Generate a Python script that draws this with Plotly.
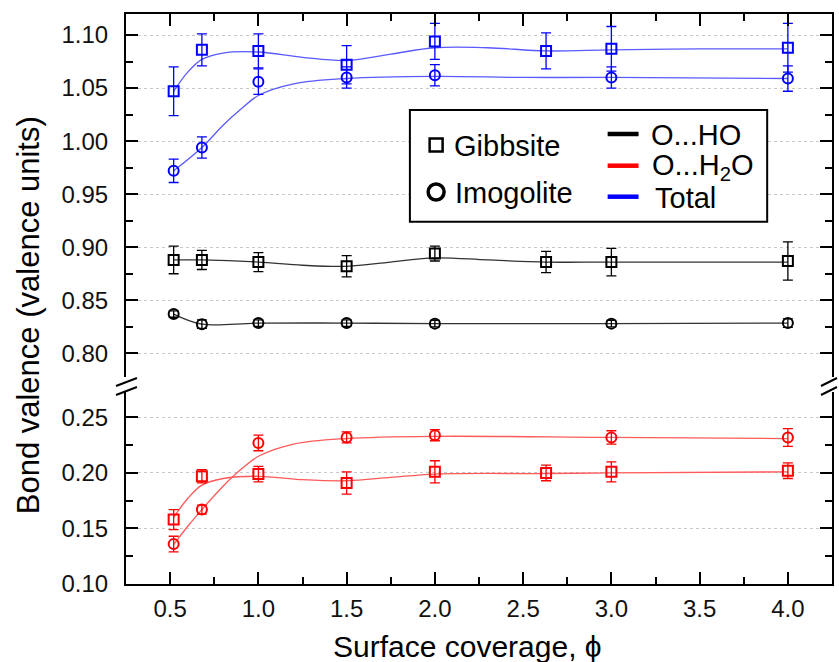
import plotly.graph_objects as go

# ---------------- data ----------------
x_gib = [0.52, 0.68, 1.0, 1.5, 2.0, 2.63, 3.0, 4.0]
x_imo = [0.52, 0.68, 1.0, 1.5, 2.0, 3.0, 4.0]

gib_total = [1.047, 1.086, 1.085, 1.072, 1.094, 1.085, 1.087, 1.088]
gib_total_err = [0.023, 0.015, 0.016, 0.018, 0.017, 0.017, 0.021, 0.023]
imo_total = [0.972, 0.994, 1.056, 1.060, 1.062, 1.060, 1.059]
imo_total_err = [0.011, 0.010, 0.012, 0.010, 0.010, 0.010, 0.012]

gib_oho = [0.888, 0.888, 0.886, 0.882, 0.894, 0.886, 0.886, 0.887]
gib_oho_err = [0.013, 0.009, 0.009, 0.010, 0.007, 0.010, 0.013, 0.018]
imo_oho = [0.837, 0.8275, 0.8285, 0.8285, 0.828, 0.828, 0.8285]
imo_oho_err = [0.003, 0.004, 0.003, 0.003, 0.003, 0.003, 0.004]

gib_h2o = [0.158, 0.197, 0.199, 0.191, 0.201, 0.200, 0.201, 0.202]
gib_h2o_err = [0.009, 0.006, 0.007, 0.010, 0.010, 0.007, 0.009, 0.007]
imo_h2o = [0.136, 0.167, 0.227, 0.232, 0.234, 0.232, 0.232]
imo_h2o_err = [0.007, 0.004, 0.007, 0.005, 0.005, 0.006, 0.008]

# smooth fitted curves
gib_total_fit_x = [0.52, 0.6, 0.68, 0.8, 1.0, 1.25, 1.5, 1.75, 2.0, 2.3, 2.63, 3.0, 3.5, 4.0]
gib_total_fit_y = [1.047, 1.065, 1.077, 1.083, 1.084, 1.079, 1.076, 1.082, 1.088, 1.088, 1.085, 1.086, 1.087, 1.087]
imo_total_fit_x = [0.52, 0.68, 0.8, 0.9, 1.0, 1.2, 1.5, 2.0, 2.5, 3.0, 4.0]
imo_total_fit_y = [0.972, 0.994, 1.015, 1.030, 1.043, 1.054, 1.059, 1.061, 1.060, 1.060, 1.059]
gib_oho_fit_x = [0.52, 0.68, 1.0, 1.25, 1.5, 1.75, 2.0, 2.3, 2.63, 3.0, 4.0]
gib_oho_fit_y = [0.888, 0.888, 0.886, 0.883, 0.882, 0.886, 0.890, 0.888, 0.886, 0.886, 0.886]
imo_oho_fit_x = [0.52, 0.68, 1.0, 1.5, 2.0, 3.0, 4.0]
imo_oho_fit_y = [0.837, 0.8275, 0.8285, 0.8285, 0.828, 0.828, 0.8285]
gib_h2o_fit_x = [0.52, 0.6, 0.68, 0.8, 1.0, 1.25, 1.5, 1.75, 2.0, 2.63, 3.0, 4.0]
gib_h2o_fit_y = [0.160, 0.177, 0.189, 0.195, 0.197, 0.194, 0.193, 0.196, 0.199, 0.1995, 0.200, 0.201]
imo_h2o_fit_x = [0.52, 0.6, 0.68, 0.8, 0.9, 1.0, 1.2, 1.5, 2.0, 3.0, 4.0]
imo_h2o_fit_y = [0.1355, 0.152, 0.167, 0.188, 0.203, 0.215, 0.226, 0.231, 0.233, 0.232, 0.231]

x_ticks = [0.5, 1.0, 1.5, 2.0, 2.5, 3.0, 3.5, 4.0]

# ---------------- styling ----------------
FONT = "Arial, Liberation Sans, sans-serif"
W, H = 839, 662
L, R, T, B = 126, 5, 14, 78
PW, PH = W - L - R, H - T - B

BLUE, BLUE_L = "#0000ff", "#5a5aff"
RED, RED_L = "#ff0000", "#ff5a5a"
BLK, BLK_L = "#000000", "#333333"


def px(xp):
    return (xp - L) / PW


def py(yp):
    return (H - B - yp) / PH


fig = go.Figure()


def add_series(xs, ys, errs, fx, fy, col, lcol, sym, upper):
    xa, ya = ("x2", "y2") if upper else ("x", "y")
    fig.add_trace(go.Scatter(x=fx, y=fy, mode="lines", line=dict(color=lcol, width=1.3, shape="spline", smoothing=1.0),
                             xaxis=xa, yaxis=ya, showlegend=False, hoverinfo="skip"))
    fig.add_trace(go.Scatter(x=xs, y=ys, mode="markers",
                             marker=dict(symbol=sym, size=10, color=col, line=dict(width=2, color=col)),
                             error_y=dict(type="data", array=errs, visible=True, color=col, thickness=1.3, width=5),
                             xaxis=xa, yaxis=ya, showlegend=False))


add_series(x_gib, gib_total, gib_total_err, gib_total_fit_x, gib_total_fit_y, BLUE, BLUE_L, "square-open", True)
add_series(x_imo, imo_total, imo_total_err, imo_total_fit_x, imo_total_fit_y, BLUE, BLUE_L, "circle-open", True)
add_series(x_gib, gib_oho, gib_oho_err, gib_oho_fit_x, gib_oho_fit_y, BLK, BLK_L, "square-open", True)
add_series(x_imo, imo_oho, imo_oho_err, imo_oho_fit_x, imo_oho_fit_y, BLK, BLK_L, "circle-open", True)
add_series(x_gib, gib_h2o, gib_h2o_err, gib_h2o_fit_x, gib_h2o_fit_y, RED, RED_L, "square-open", False)
add_series(x_imo, imo_h2o, imo_h2o_err, imo_h2o_fit_x, imo_h2o_fit_y, RED, RED_L, "circle-open", False)

tickfont = dict(family=FONT, size=24, color="#111")
common_y = dict(showline=True, linecolor="black", linewidth=2, mirror="ticks", ticks="inside", ticklen=12,
                tickwidth=2, tickcolor="black", dtick=0.05, tickformat=".2f", tickfont=tickfont,
                showgrid=True, gridcolor="#c8c8c8", griddash="dot", gridwidth=1, zeroline=False,
                ticklabelstandoff=11,
                minor=dict(ticks="inside", ticklen=7, tickwidth=2, tickcolor="black", dtick=0.025, showgrid=False))

upper_bottom = 377
lower_top = 392
fig.update_layout(
    width=W, height=H, margin=dict(l=L, r=R, t=T, b=B),
    paper_bgcolor="white", plot_bgcolor="white", showlegend=False,
    xaxis=dict(domain=[0, 1], anchor="y", range=[0.25, 4.25], tickvals=x_ticks, tickformat=".1f",
               showline=True, linecolor="black", linewidth=2, ticks="inside", ticklen=12, tickwidth=2,
               tickcolor="black", tickfont=tickfont, showgrid=False, zeroline=False, ticklabelstandoff=2,
               minor=dict(ticks="inside", ticklen=7, tickwidth=2, tickcolor="black", dtick=0.25, tick0=0.25)),
    xaxis2=dict(domain=[0, 1], anchor="y2", matches="x", side="top", range=[0.25, 4.25], tickvals=x_ticks,
                showticklabels=False, showline=True, linecolor="black", linewidth=2, ticks="inside", ticklen=12,
                tickwidth=2, tickcolor="black", showgrid=False, zeroline=False,
                minor=dict(ticks="inside", ticklen=7, tickwidth=2, tickcolor="black", dtick=0.25, tick0=0.25)),
    yaxis=dict(domain=[0, py(lower_top)], range=[0.10, 0.2729], tick0=0.10, **common_y),
    yaxis2=dict(domain=[py(upper_bottom), 1], range=[0.7777, 1.1198], tick0=0.80, anchor="x2", **common_y),
)

shapes = []
# axis break marks (left and right)
for (xa0, xa1) in [(116, 137), (823, 839)]:
    shapes.append(dict(type="line", xref="paper", yref="paper", x0=px(xa0), y0=py(386), x1=px(xa1), y1=py(378),
                       line=dict(color="black", width=2)))
    shapes.append(dict(type="line", xref="paper", yref="paper", x0=px(xa0), y0=py(395), x1=px(xa1), y1=py(387),
                       line=dict(color="black", width=2)))

# legend box
shapes.append(dict(type="rect", xref="paper", yref="paper", x0=px(410.7), x1=px(769), y0=py(221.7), y1=py(110),
                   line=dict(color="black", width=2), fillcolor="white"))
# legend symbols
shapes.append(dict(type="rect", xref="paper", yref="paper", x0=px(430.5), x1=px(443.5), y0=py(151.5), y1=py(138.5),
                   line=dict(color="black", width=2.5)))
shapes.append(dict(type="circle", xref="paper", yref="paper", x0=px(429), x1=px(445), y0=py(200), y1=py(184),
                   line=dict(color="black", width=3.5)))
for yy, c in [(134, "black"), (165.7, "#ff0000"), (196.7, "#0000ff")]:
    shapes.append(dict(type="line", xref="paper", yref="paper", x0=px(609), x1=px(640), y0=py(yy), y1=py(yy),
                       line=dict(color=c, width=4.5)))
fig.update_layout(shapes=shapes)

lf = dict(family=FONT, size=29, color="black")
ann = []
for txt, xx, yy in [("Gibbsite", 453, 146), ("Imogolite", 454, 193), ("O...HO", 650, 135),
                    ("O...H<sub>2</sub>O", 651, 167), ("Total", 654, 198)]:
    ann.append(dict(text=txt, xref="paper", yref="paper", x=px(xx), y=py(yy), xanchor="left", yanchor="middle",
                    showarrow=False, font=lf))
ann.append(dict(text="Surface coverage, ϕ", xref="paper", yref="paper", x=px(468.5), y=py(646.7),
                xanchor="center", yanchor="middle", showarrow=False, font=dict(family=FONT, size=30, color="black")))
ann.append(dict(text="Bond valence (valence units)", xref="paper", yref="paper", x=px(28), y=py(315),
                xanchor="center", yanchor="middle", textangle=-90, showarrow=False,
                font=dict(family=FONT, size=31, color="black")))
fig.update_layout(annotations=ann)

fig.write_html("out.html")
